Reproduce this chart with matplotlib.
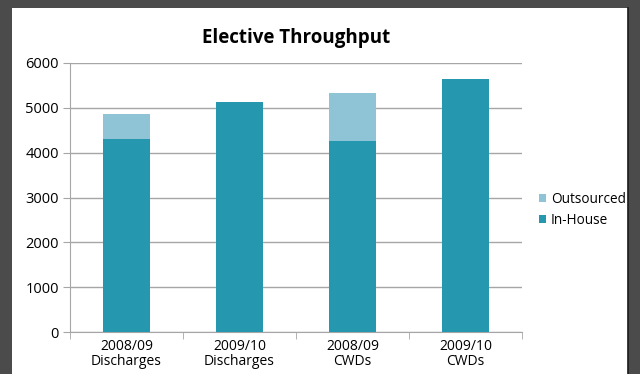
import matplotlib
matplotlib.use('Agg')
import numpy as np
from matplotlib import pyplot as plt
from matplotlib.patches import Rectangle

categories = ['2008/09\nDischarges', '2009/10\nDischarges', '2008/09\nCWDs', '2009/10\nCWDs']
in_house = [4300, 5130, 4250, 5650]
outsourced = [570, 0, 1080, 0]

c_in = '#2598b0'
c_out = '#8fc4d6'
grey = '#a6a6a6'

plt.rcParams['font.family'] = ['Open Sans', 'DejaVu Sans']

fig = plt.figure(figsize=(6.4, 3.74), dpi=100)
fig.patch.set_facecolor('#4b4b4b')
fig.patches.append(Rectangle((12/640, 0), 616/640, 1 - 8/374, transform=fig.transFigure,
                             facecolor='white', edgecolor='none', zorder=-5))
fig.lines.append(plt.Line2D([628/640, 628/640], [0, 1 - 8/374], transform=fig.transFigure,
                            color='#1a1a1a', lw=1.2, zorder=-4))

ax = fig.add_axes([70/640, 1 - 332/374, 452/640, 269/374])
ax.patch.set_alpha(0)
x = np.arange(len(categories))
ax.bar(x, in_house, width=0.41, color=c_in, label='In-House', zorder=3)
ax.bar(x, outsourced, width=0.41, bottom=in_house, color=c_out, label='Outsourced', zorder=3)

ax.set_xlim(-0.5, 3.5)
ax.set_ylim(0, 6000)
ax.set_yticks(range(0, 6001, 1000))
ax.yaxis.grid(True, color=grey, lw=1, zorder=0)
ax.set_xticks(x)
ax.set_xticklabels(categories, fontsize=10, linespacing=1.0)
ax.set_xticks(np.arange(-0.5, 4, 1), minor=True)
ax.tick_params(axis='x', which='major', length=0, pad=5)
ax.tick_params(axis='x', which='minor', length=5, color=grey)
ax.tick_params(axis='y', length=5, color=grey, labelsize=10.5, pad=3)
for s in ['top', 'right']:
    ax.spines[s].set_visible(False)
for s in ['left', 'bottom']:
    ax.spines[s].set_color(grey)

fig.text(296/640, 1 - 38/374, 'Elective Throughput', ha='center', va='center',
         fontsize=13.5, fontweight='bold')

h, l = ax.get_legend_handles_labels()
fig.legend(h[::-1], l[::-1], loc='center left', bbox_to_anchor=(527/640, 1 - 210/374),
           frameon=False, fontsize=9.8, handlelength=0.5, handleheight=0.5,
           handletextpad=0.35, labelspacing=0.45)

fig.savefig('out.png', dpi=100, facecolor=fig.get_facecolor())
